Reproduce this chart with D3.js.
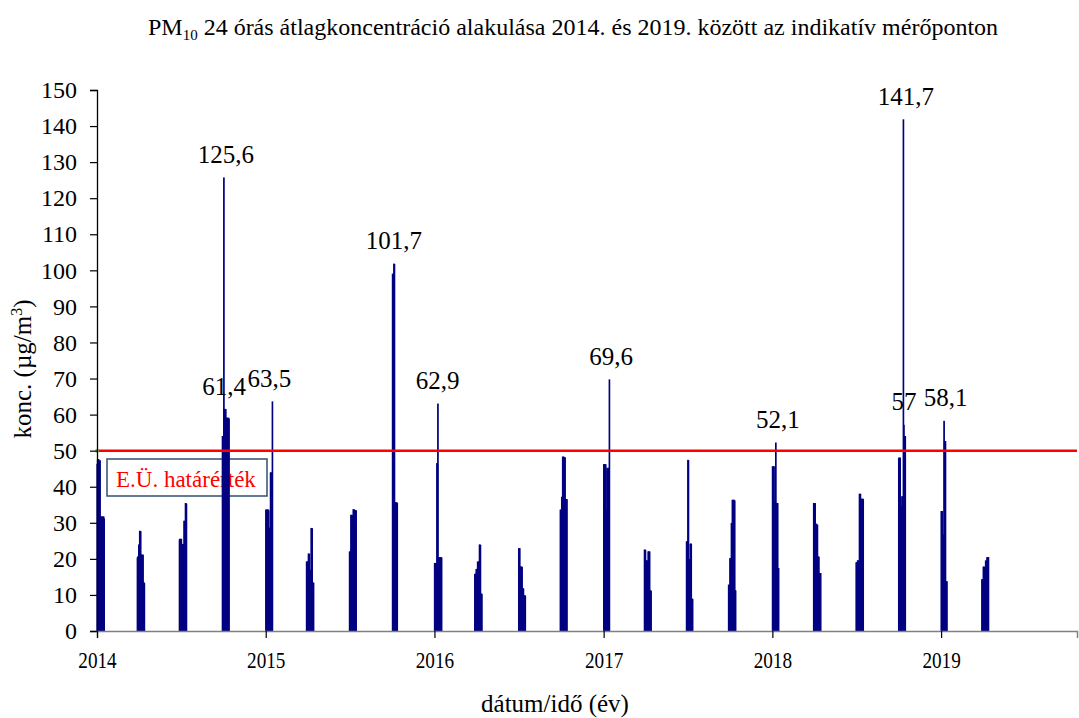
<!DOCTYPE html>
<html>
<head>
<meta charset="utf-8">
<script src="https://cdn.jsdelivr.net/npm/d3@7"></script>
<style>
    body { margin: 0; background: #fff; }
    svg, svg text { font-family: "Liberation Serif", "Tinos", "Times New Roman", "DejaVu Serif", serif !important; }
</style>
</head>
<body>
<div class="chart"></div>
<script>
// mérési kampányok kezdőnapja (negyedévente ~2 hét)
var campaignStart = ["2014-01-01", "2014-03-29", "2014-06-28", "2014-09-29",
    "2015-01-01", "2015-03-30", "2015-07-01", "2015-10-02",
    "2016-01-01", "2016-03-28", "2016-07-01", "2016-09-29",
    "2017-01-01", "2017-03-30", "2017-06-29", "2017-09-28",
    "2018-01-01", "2018-03-31", "2018-07-01", "2018-10-01",
    "2019-01-01", "2019-03-30"];

// napi PM10 átlagok (µg/m3), kampányonként
var campaignValues = [
    [46.2, 47.5, 47.4, 47.5, 45.0, 47.0, 47.2, 31.0, 31.6, 31.5, 31.6, 30.8, 31.6, 31.2, 31.6, 31.0],
    [20.2, 20.5, 20.5, 23.8, 23.8, 27.6, 27.6, 27.5, 21.0, 21.0, 20.8, 21.0, 21.0, 13.3, 13.3, 13.1],
    [25.2, 25.4, 25.4, 25.3, 25.4, 23.9, 24.0, 23.8, 23.9, 23.9, 30.4, 30.4, 30.3, 35.3, 35.3, 35.1],
    [53.9, 53.8, 53.9, 125.6, 61.4, 61.4, 61.2, 61.4, 59.0, 58.8, 59.0, 58.9, 58.8, 59.0, 58.7],
    [33.5, 33.5, 33.4, 33.5, 33.5, 33.5, 33.3, 28.5, 28.4, 28.5, 43.8, 43.8, 43.6, 43.8, 63.5],
    [19.1, 19.0, 19.1, 19.1, 21.3, 21.3, 21.2, 16.8, 16.8, 16.7, 28.4, 28.4, 28.3, 13.3, 13.3, 13.2],
    [21.9, 21.8, 21.9, 32.0, 32.1, 32.0, 31.9, 32.0, 33.6, 33.6, 33.5, 33.3, 33.2, 33.3, 33.3],
    [98.9, 98.7, 98.9, 101.7, 101.6, 35.5, 35.5, 35.4, 35.5, 35.5, 35.3],
    [18.7, 18.6, 18.7, 18.7, 18.6, 46.4, 46.2, 62.9, 20.3, 20.3, 20.2, 20.3, 20.3, 20.1, 20.3, 20.2],
    [15.7, 15.6, 15.7, 17.0, 17.0, 17.1, 19.1, 19.0, 19.1, 19.1, 23.8, 23.8, 23.7, 10.2, 10.2, 10.1],
    [22.8, 22.7, 22.8, 17.7, 17.6, 17.7, 17.7, 17.6, 11.7, 11.7, 11.6, 9.7, 9.7, 9.6, 9.7],
    [33.5, 33.4, 33.5, 37.0, 37.1, 48.2, 48.1, 48.2, 48.0, 47.9, 48.0, 36.4, 36.3, 36.4, 36.4],
    [46.1, 46.0, 46.1, 46.1, 46.0, 33.6, 33.6, 45.0, 45.1, 45.0, 45.0, 45.1, 69.6],
    [22.4, 22.4, 22.3, 19.4, 19.4, 19.3, 19.4, 11.3, 21.9, 21.9, 21.8, 21.9, 11.1, 11.1, 11.0],
    [24.7, 24.6, 24.7, 47.3, 47.2, 19.8, 19.8, 19.7, 24.0, 24.1, 24.0, 8.8, 8.8, 8.7],
    [12.7, 12.6, 12.7, 20.0, 20.1, 20.0, 29.8, 29.7, 36.2, 36.2, 36.1, 36.2, 36.2, 36.0, 11.1, 11.1],
    [45.5, 45.4, 45.5, 45.5, 35.8, 35.7, 35.8, 52.1, 35.3, 35.3, 35.2, 35.3, 17.3, 17.3],
    [35.3, 35.2, 35.3, 35.3, 29.6, 29.6, 29.5, 29.3, 29.3, 20.5, 20.5, 20.4, 15.9, 15.9, 15.8, 15.9],
    [18.9, 18.8, 18.9, 19.4, 19.4, 19.3, 19.4, 37.9, 37.8, 37.9, 36.5, 36.5, 36.4, 36.5, 36.5, 36.4],
    [47.9, 47.8, 47.9, 47.9, 34.5, 34.4, 34.5, 37.2, 37.1, 37.2, 141.7, 57.0, 53.9, 53.8, 53.9],
    [33.1, 33.0, 33.1, 26.6, 26.5, 26.6, 58.1, 52.5, 52.4, 52.5, 13.7, 13.7, 13.6],
    [14.2, 14.1, 14.2, 17.7, 17.6, 17.7, 14.5, 14.5, 19.4, 19.3, 19.4, 20.3, 20.2, 20.3, 20.3]
];

// kiemelt értékek feliratai
var annotLabels = ["125,6", "61,4", "63,5", "101,7", "62,9", "69,6", "52,1", "141,7", "57", "58,1"];
var annotValues = [125.6, 61.4, 63.5, 101.7, 62.9, 69.6, 52.1, 141.7, 57, 58.1];
var annotDates = ["2014-10-07", "2014-10-03", "2015-01-09", "2015-10-05", "2016-01-08",
    "2017-01-17", "2018-01-13", "2018-10-17", "2018-10-13", "2019-01-11"];

var yTicks = [0, 10, 20, 30, 40, 50, 60, 70, 80, 90, 100, 110, 120, 130, 140, 150];
var xTickYears = ["2014", "2015", "2016", "2017", "2018", "2019"];
var xDomain = ["2014-01-01", "2019-10-22"];

var limitValue = 50;
var limitLabel = "E.Ü. határérték";

var width = 1079;
var height = 718;
var serif = '"Liberation Serif", "Tinos", "Times New Roman", "DejaVu Serif", serif';
var parse = d3.utcParse("%Y-%m-%d");

var x = d3.scaleUtc().domain(xDomain.map(parse)).range([97, 1077]);
var y = d3.scaleLinear().domain([0, 150]).range([631, 90]);

// napi adatsor összerakása
var bars = [];
campaignStart.forEach(function (s, i) {
    var d0 = parse(s);
    campaignValues[i].forEach(function (v, j) {
        bars.push({date: d3.utcDay.offset(d0, j), value: v});
    });
});

var svg = d3.select("div.chart").append("svg")
    .attr("width", width)
    .attr("height", height)
    .attr("font-family", serif);

// cím
var title = svg.append("text")
    .attr("x", 573)
    .attr("y", 35)
    .style("text-anchor", "middle")
    .style("font-size", "24px");
title.append("tspan").text("PM");
title.append("tspan").attr("dy", 5).style("font-size", "15px").text("10");
title.append("tspan").attr("dy", -5).text(" 24 órás átlagkoncentráció alakulása 2014. és 2019. között az indikatív mérőponton");

// határérték doboz (az oszlopok alatt)
svg.append("rect")
    .attr("x", 107)
    .attr("y", 459)
    .attr("width", 160)
    .attr("height", 37)
    .attr("fill", "none")
    .attr("stroke", "#2f4f6f")
    .attr("stroke-width", 1.5);
svg.append("text")
    .attr("x", 116)
    .attr("y", 487)
    .style("font-size", "23px")
    .style("fill", "#ff0000")
    .text(limitLabel);

// oszlopok
svg.append("g").selectAll("rect").data(bars).enter().append("rect")
    .attr("x", function (d) { return x(d.date); })
    .attr("y", function (d) { return y(d.value); })
    .attr("width", function (d) { return x(d3.utcDay.offset(d.date, 1)) - x(d.date); })
    .attr("height", function (d) { return y(0) - y(d.value); })
    .attr("fill", "#000080")
    .attr("stroke", "#000080")
    .attr("stroke-width", 1.2);

// határérték vonal
svg.append("line")
    .attr("x1", x.range()[0])
    .attr("x2", x.range()[1])
    .attr("y1", y(limitValue))
    .attr("y2", y(limitValue))
    .attr("stroke", "#ff0000")
    .attr("stroke-width", 2.5);
svg.append("circle")
    .attr("cx", x.range()[0])
    .attr("cy", y(limitValue))
    .attr("r", 2)
    .attr("fill", "#9bbb59");

// y tengely
var yAxis = svg.append("g")
    .attr("transform", "translate(97,0)")
    .call(d3.axisLeft(y).tickValues(yTicks).tickSize(7).tickPadding(13).tickFormat(d3.format("d")))
    .attr("font-family", serif);
yAxis.select(".domain").attr("stroke", "#000").attr("stroke-width", 1.3);
yAxis.selectAll(".tick line").attr("stroke", "#000").attr("stroke-width", 1.2);
yAxis.selectAll("text").attr("fill", "#000").style("font-size", "24px");

// x tengely - az évszámok keskenyebbek az eredetin
var xAxis = svg.append("g")
    .attr("transform", "translate(0,631)")
    .call(d3.axisBottom(x).tickValues(xTickYears.map(function (t) { return parse(t + "-01-01"); }))
        .tickSize(7).tickPadding(13).tickFormat(d3.utcFormat("%Y")))
    .attr("font-family", serif);
xAxis.select(".domain").attr("stroke", "#808080").attr("stroke-width", 1.5);
xAxis.selectAll(".tick line").attr("stroke", "#000").attr("stroke-width", 1.2);
xAxis.selectAll("text").attr("fill", "#000").attr("transform", "scale(0.8,1)").style("font-size", "24px");

// tengelycímek
svg.append("text")
    .attr("x", 555)
    .attr("y", 712)
    .style("text-anchor", "middle")
    .style("font-size", "25px")
    .text("dátum/idő (év)");

var yTitle = svg.append("text")
    .attr("transform", "translate(31,369) rotate(-90)")
    .style("text-anchor", "middle")
    .style("font-size", "25px");
yTitle.append("tspan").text("konc. (µg/m");
yTitle.append("tspan").attr("dy", -9).style("font-size", "16px").text("3");
yTitle.append("tspan").attr("dy", 9).text(")");

// feliratok a csúcsok fölött
svg.append("g").selectAll("text").data(annotLabels).enter().append("text")
    .attr("x", function (d, i) { return x(parse(annotDates[i])); })
    .attr("y", function (d, i) { return y(annotValues[i]) - 15; })
    .style("text-anchor", "middle")
    .style("font-size", "25px")
    .text(function (d) { return d; });
</script>
</body>
</html>
